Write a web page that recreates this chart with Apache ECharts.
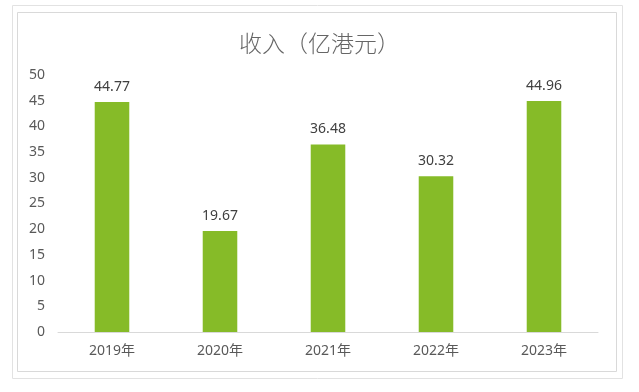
<!DOCTYPE html>
<html><head><meta charset="utf-8">
<script src="https://cdn.jsdelivr.net/npm/echarts@6/dist/echarts.min.js"></script>
<style>html,body{margin:0;padding:0;background:#fff}#c{width:639px;height:392px}</style>
</head><body><div id="c"></div>
<script>
const categories = ['2019年','2020年','2021年','2022年','2023年'];
const revenue = [44.77, 19.67, 36.48, 30.32, 44.96];
const yTicks = {min: 0, max: 50, interval: 5};
const titleText = '收入（亿港元）';

const FONT = '"Noto Sans", "Noto Sans CJK SC", sans-serif';
const chart = echarts.init(document.getElementById('c'), null, {renderer: 'canvas'});
chart.setOption({
  animation: false,
  backgroundColor: '#fff',
  title: {
    text: titleText, left: 'center', top: 27,
    textStyle: {fontFamily: '"Noto Sans CJK SC", sans-serif', fontSize: 23, fontWeight: 300, color: '#666666'}
  },
  graphic: [
    {type: 'rect', shape: {x: 12.5, y: 5.5, width: 610, height: 373}, style: {fill: 'none', stroke: '#e2e2e2', lineWidth: 1}, silent: true},
    {type: 'rect', shape: {x: 17.5, y: 12.5, width: 599, height: 359}, style: {fill: 'none', stroke: '#d9d9d9', lineWidth: 1}, silent: true}
  ],
  grid: {left: 58, right: 41, top: 75, bottom: 60},
  xAxis: {
    type: 'category', data: categories,
    axisLine: {lineStyle: {color: '#d9d9d9', width: 1}},
    axisTick: {show: false},
    axisLabel: {color: '#595959', fontSize: 14, fontFamily: FONT, margin: 12}
  },
  yAxis: {
    type: 'value', min: yTicks.min, max: yTicks.max, interval: yTicks.interval,
    axisLine: {show: false}, axisTick: {show: false},
    splitLine: {show: false},
    axisLabel: {color: '#595959', fontSize: 14, fontFamily: FONT, margin: 13}
  },
  series: [{
    type: 'bar', data: revenue, barWidth: '32%',
    itemStyle: {color: '#86bb28'},
    label: {show: true, position: 'top', distance: 8, color: '#404040', fontSize: 14, fontFamily: FONT,
      formatter: p => p.value.toFixed(2)}
  }]
});
</script></body></html>
